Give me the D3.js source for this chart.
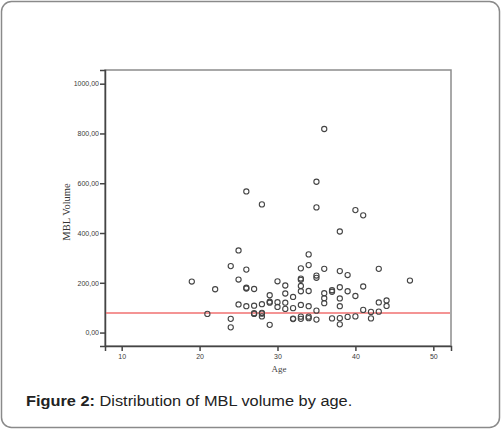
<!DOCTYPE html>
<html>
<head>
<meta charset="utf-8">
<script src="https://cdn.jsdelivr.net/npm/d3@7"></script>
<style>
  body { margin: 0; background: #fff; }
  svg { display: block; }
</style>
</head>
<body>
<script>
// ages et volumes MBL
const ages = [19, 21, 22, 24, 24, 24, 25, 25, 25,
  26, 26, 26, 26, 26, 27, 27, 27, 27, 28, 28, 28, 28, 28,
  29, 29, 29, 29, 30, 30, 30, 31, 31, 31, 31, 32, 32, 32, 32,
  33, 33, 33, 33, 33, 33, 33, 33, 34, 34, 34, 34, 34, 34,
  35, 35, 35, 35, 35, 35, 36, 36, 36, 36, 36, 37, 37, 37,
  38, 38, 38, 38, 38, 38, 38, 39, 39, 39, 40, 40, 40,
  41, 41, 41, 42, 42, 43, 43, 43, 44, 44, 47]
const volumes = [205, 75, 174, 267, 55, 21, 330, 213, 113,
  567, 253, 180, 177, 106, 175, 108, 78, 75, 515, 114, 79, 76, 65,
  150, 124, 120, 31, 206, 122, 103, 189, 157, 120, 95, 143, 98, 56, 54,
  258, 217, 212, 187, 166, 111, 64, 55, 314, 271, 167, 106, 64, 58,
  606, 503, 229, 220, 88, 52, 818, 256, 158, 138, 118, 170, 164, 57,
  406, 247, 182, 137, 106, 58, 33, 231, 166, 63, 492, 147, 65,
  471, 185, 91, 83, 57, 256, 121, 84, 129, 107, 209]

// graduations
const xTicks = [10, 20, 30, 40, 50]
const yTicks = [0, 200, 400, 600, 800, 1000]

// ligne de référence (rouge)
const refLine = [79]

const W = 501, H = 429
const plot = { left: 105, right: 451, top: 70, bottom: 346 }

const svg = d3.select("body").append("svg")
  .attr("width", W)
  .attr("height", H)

// cadre arrondi autour de la figure
svg.append("rect")
  .attr("x", 1.5).attr("y", 1.5)
  .attr("width", W - 3).attr("height", H - 3)
  .attr("rx", 10).attr("ry", 10)
  .attr("fill", "#fff")
  .attr("stroke", "#8a8a8a")
  .attr("stroke-width", 1.5)

/* ECHELLES ---------------------------------------------------- */
const x = d3.scaleLinear()
  .domain([7.86, 52.27])
  .range([plot.left, plot.right])

const y = d3.scaleLinear()
  .domain([-54, 1055])
  .range([plot.bottom, plot.top])

const fmt = v => d3.format(".2f")(v).replace(".", ",")

// bord du graphique (haut et droite plus clairs)
svg.append("rect")
  .attr("x", plot.left).attr("y", plot.top)
  .attr("width", plot.right - plot.left)
  .attr("height", plot.bottom - plot.top)
  .attr("fill", "none")
  .attr("stroke", "#8c8c8c")
  .attr("stroke-width", 1.5)

/* AXES -------------------------------------------------------- */
const gx = svg.append("g")
  .attr("transform", "translate(0," + plot.bottom + ")")
  .call(d3.axisBottom(x).tickValues(xTicks).tickSize(5).tickPadding(3).tickFormat(d3.format("d")))

const gy = svg.append("g")
  .attr("transform", "translate(" + plot.left + ",0)")
  .call(d3.axisLeft(y).tickValues(yTicks).tickSize(5).tickPadding(1).tickFormat(fmt))

;[gx, gy].forEach(g => {
  g.select(".domain").attr("stroke", "#444").attr("stroke-width", 1.5)
  g.selectAll(".tick line").attr("stroke", "#444").attr("stroke-width", 1.5)
  g.selectAll(".tick text")
    .attr("fill", "#3a3a3a")
    .style("font-family", "Arial, 'Liberation Sans', sans-serif")
    .style("font-size", "7px")
})

// titres des axes
svg.append("text")
  .attr("x", (plot.left + plot.right) / 2 + 1)
  .attr("y", 372)
  .attr("text-anchor", "middle")
  .attr("fill", "#444")
  .style("font-family", "'Liberation Serif', 'Times New Roman', serif")
  .style("font-size", "9px")
  .text("Age")

svg.append("text")
  .attr("transform", "translate(70," + 212 + ") rotate(-90)")
  .attr("text-anchor", "middle")
  .attr("fill", "#333")
  .style("font-family", "'Liberation Serif', 'Times New Roman', serif")
  .style("font-size", "10.5px")
  .text("MBL Volume")

/* LIGNE ROUGE ------------------------------------------------- */
svg.selectAll(".ref")
  .data(refLine)
  .enter()
  .append("line")
  .attr("x1", plot.left + 1)
  .attr("x2", plot.right - 1)
  .attr("y1", d => y(d))
  .attr("y2", d => y(d))
  .attr("stroke", "#f07070")
  .attr("stroke-width", 1.5)

/* POINTS ------------------------------------------------------ */
svg.append("g")
  .selectAll("circle")
  .data(ages)
  .enter()
  .append("circle")
  .attr("cx", d => x(d))
  .attr("cy", (d, i) => y(volumes[i]))
  .attr("r", 2.6)
  .attr("fill", "none")
  .attr("stroke", "#444")
  .attr("stroke-width", 1.1)

/* LEGENDE ----------------------------------------------------- */
// un peu étirée en largeur pour suivre l'image d'origine
const cap = svg.append("text")
  .attr("transform", "translate(26,406) scale(1.09,1)")
  .style("font-family", "Arial, 'Liberation Sans', sans-serif")
  .style("font-size", "15px")
  .attr("fill", "#222")
cap.append("tspan").attr("font-weight", "bold").text("Figure 2:")
cap.append("tspan").text(" Distribution of MBL volume by age.")
</script>
</body>
</html>
